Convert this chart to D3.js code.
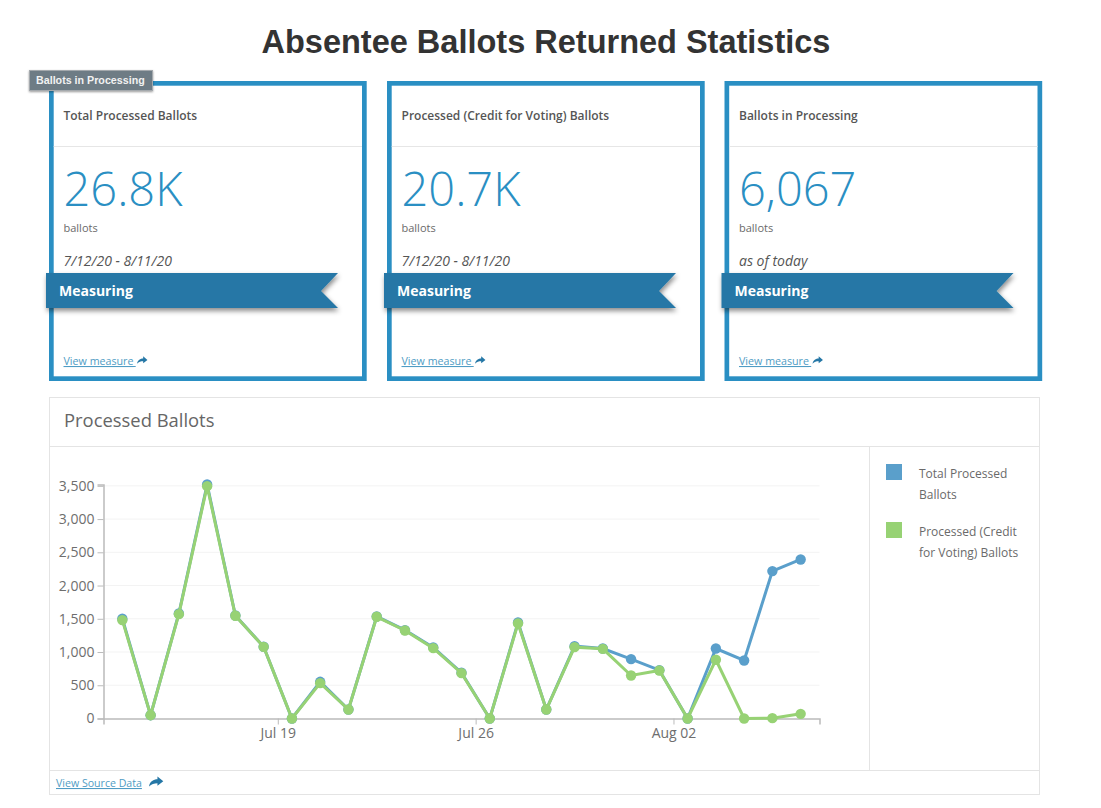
<!DOCTYPE html>
<html>
<head>
<meta charset="utf-8">
<script src="https://d3js.org/d3.v7.min.js"></script>
<style>
  body { margin: 0; background: #fff; }
  svg { display: block; }
  text { font-family: "Open Sans", sans-serif; }
  .grid line { stroke: #f3f3f3; }
  .axis text { font-size: 14px; fill: #6e6e6e; font-weight: 400; }
  .axis path, .axis line { stroke: #bbb; }
  .link { fill: #4f9cc4; font-size: 11px; font-weight: 400; text-decoration: underline; }
</style>
</head>
<body>
<script>
const dates = ['2020-07-13', '2020-07-14', '2020-07-15', '2020-07-16', '2020-07-17', '2020-07-18', '2020-07-19',
  '2020-07-20', '2020-07-21', '2020-07-22', '2020-07-23', '2020-07-24', '2020-07-25', '2020-07-26',
  '2020-07-27', '2020-07-28', '2020-07-29', '2020-07-30', '2020-07-31', '2020-08-01', '2020-08-02',
  '2020-08-03', '2020-08-04', '2020-08-05', '2020-08-06'];
const totalProcessed = [1500, 50, 1580, 3520, 1550, 1080, 0, 552, 135, 1535, 1330, 1070, 690, 0,
  1445, 135, 1088, 1053, 893, 727, 0, 1053, 873, 2217, 2392];
const creditProcessed = [1480, 50, 1570, 3495, 1545, 1078, 0, 532, 135, 1530, 1324, 1058, 682, 0,
  1430, 135, 1073, 1048, 647, 722, 0, 883, 0, 5, 70];

const yTicks = [0, 500, 1000, 1500, 2000, 2500, 3000, 3500];
const xTicks = ['2020-07-19', '2020-07-26', '2020-08-02'];

const cardTitles = ['Total Processed Ballots', 'Processed (Credit for Voting) Ballots', 'Ballots in Processing'];
const cardValues = ['26.8K', '20.7K', '6,067'];
const cardRanges = ['7/12/20 - 8/11/20', '7/12/20 - 8/11/20', 'as of today'];
const cardLefts = [49, 387, 724.5];

const legendLabels = [['Total Processed', 'Ballots'], ['Processed (Credit', 'for Voting) Ballots']];
const seriesColors = ['#5a9fcb', '#97d274'];

const svg = d3.select('body')
  .append('svg')
  .attr('width', 1101)
  .attr('height', 808);

const defs = svg.append('defs');
const shadow = defs.append('filter')
  .attr('id', 'ribbon-shadow')
  .attr('x', '-5%').attr('y', '-20%')
  .attr('width', '115%').attr('height', '160%');
shadow.append('feDropShadow')
  .attr('dx', 1).attr('dy', 3)
  .attr('stdDeviation', 2.5)
  .attr('flood-color', '#000')
  .attr('flood-opacity', 0.45);

const tipShadow = defs.append('filter')
  .attr('id', 'tip-shadow')
  .attr('x', '-5%').attr('y', '-20%')
  .attr('width', '110%').attr('height', '150%');
tipShadow.append('feDropShadow')
  .attr('dx', 0).attr('dy', 1)
  .attr('stdDeviation', 1)
  .attr('flood-color', '#000')
  .attr('flood-opacity', 0.4);

svg.append('text')
  .text('Absentee Ballots Returned Statistics')
  .attr('x', 546)
  .attr('y', 53)
  .attr('text-anchor', 'middle')
  .style('font-family', '"Liberation Sans", Arial, sans-serif')
  .style('font-weight', 700)
  .style('font-size', '32.5px')
  .attr('fill', '#333');

function shareIcon(parent, x, y, color, k) {
  parent.append('path')
    .attr('transform', `translate(${x}, ${y}) scale(${k})`)
    .attr('d', 'M0 6.5 C0.8 2.5 3.5 1 6.5 1 L6.5 -1.2 L11 2.5 L6.5 6 L6.5 4 C4 4 2 4.6 0 6.5 Z')
    .attr('fill', color);
}

function drawCards() {
  const cards = svg.selectAll('g.card')
    .data(cardTitles)
    .enter()
    .append('g')
    .attr('class', 'card')
    .attr('transform', (d, i) => `translate(${cardLefts[i]}, 81)`);

  cards.append('rect')
    .attr('x', 2.35).attr('y', 2.35)
    .attr('width', 313).attr('height', 295.3)
    .attr('fill', '#fff')
    .attr('stroke', '#2a8fc3')
    .attr('stroke-width', 4.7);

  cards.append('line')
    .attr('x1', 4.7).attr('x2', 313)
    .attr('y1', 65.5).attr('y2', 65.5)
    .attr('stroke', '#e6e6e6');

  cards.append('text')
    .text(d => d)
    .attr('x', 14.5).attr('y', 38.5)
    .style('font-size', '12px')
    .style('font-weight', 600)
    .attr('fill', '#555');

  cards.append('text')
    .text((d, i) => cardValues[i])
    .attr('x', 14.5).attr('y', 125)
    .style('font-size', '47px')
    .style('font-weight', 300)
    .attr('fill', '#2a8fc3');

  cards.append('text')
    .text('ballots')
    .attr('x', 14.5).attr('y', 151)
    .style('font-size', '11px')
    .attr('fill', '#6a6a6a');

  cards.append('text')
    .text((d, i) => cardRanges[i])
    .attr('x', 14.5).attr('y', 185)
    .style('font-size', '14px')
    .style('font-style', 'italic')
    .attr('fill', '#555');

  cards.append('path')
    .attr('d', 'M-3 192 H289 L272 210 L289 227 H-3 Z')
    .attr('fill', '#2577a6')
    .attr('filter', 'url(#ribbon-shadow)');

  cards.append('text')
    .text('Measuring')
    .attr('x', 10).attr('y', 215)
    .style('font-size', '14px')
    .style('font-weight', 700)
    .attr('fill', '#fff');

  cards.append('text')
    .text('View measure')
    .attr('class', 'link')
    .attr('x', 14.5).attr('y', 284)
    .style('font-size', '10.7px');

  // le soulignement continue un peu apres le texte dans l'original
  cards.append('line')
    .attr('x1', 83).attr('x2', 86.7)
    .attr('y1', 285.5).attr('y2', 285.5)
    .attr('stroke', '#4f9cc4');

  cards.each(function () {
    shareIcon(d3.select(this), 88, 276.5, '#2577a6', 0.95);
  });
}

function drawPanel() {
  const panel = svg.append('g');

  panel.append('rect')
    .attr('x', 49.5).attr('y', 397.5)
    .attr('width', 990).attr('height', 397)
    .attr('fill', '#fff')
    .attr('stroke', '#e4e4e4');

  panel.selectAll('line.sep')
    .data([[49.5, 446.5, 1039.5, 446.5], [49.5, 770.5, 1039.5, 770.5], [869.5, 446.5, 869.5, 770.5]])
    .enter()
    .append('line')
    .attr('class', 'sep')
    .attr('x1', d => d[0]).attr('y1', d => d[1])
    .attr('x2', d => d[2]).attr('y2', d => d[3])
    .attr('stroke', '#e4e4e4');

  panel.append('text')
    .text('Processed Ballots')
    .attr('x', 64).attr('y', 427)
    .style('font-size', '18.4px')
    .attr('fill', '#666');

  panel.append('text')
    .text('View Source Data')
    .attr('class', 'link')
    .attr('x', 56).attr('y', 787)
    .style('font-size', '10.6px');

  shareIcon(panel, 149, 778, '#2577a6', 1.3);

  const legend = panel.selectAll('g.legend')
    .data(legendLabels)
    .enter()
    .append('g')
    .attr('class', 'legend')
    .attr('transform', (d, i) => `translate(886, ${464 + i * 58})`);

  legend.append('rect')
    .attr('width', 16).attr('height', 16)
    .attr('fill', (d, i) => seriesColors[i]);

  legend.selectAll('text')
    .data(d => d)
    .enter()
    .append('text')
    .text(d => d)
    .attr('x', 33)
    .attr('y', (d, i) => 14 + i * 21)
    .style('font-size', '12px')
    .style('font-weight', 400)
    .attr('fill', '#6a6a6a');
}

function drawChart() {
  const parse = d3.utcParse('%Y-%m-%d');
  // les points sont centres sur le milieu de la journee
  const noon = d => d3.utcHour.offset(parse(d), 12);

  const x = d3.scaleUtc()
    .domain([d3.utcHour.offset(parse(dates[0]), -4), d3.utcHour.offset(parse(dates[dates.length - 1]), 28)])
    .range([103.5, 819.5]);

  const y = d3.scaleLinear()
    .domain([0, d3.max(totalProcessed)])
    .range([718.5, 484.5]);

  svg.append('g')
    .attr('class', 'grid')
    .selectAll('line')
    .data(yTicks.slice(1))
    .enter()
    .append('line')
    .attr('x1', 103.5).attr('x2', 819.5)
    .attr('y1', d => y(d)).attr('y2', d => y(d));

  const yAxis = d3.axisLeft(y)
    .tickValues(yTicks)
    .tickFormat(d3.format(','))
    .tickSize(6)
    .tickPadding(3);

  const xAxis = d3.axisBottom(x)
    .tickValues(xTicks.map(parse))
    .tickFormat(d3.utcFormat('%b %d'))
    .tickSize(6)
    .tickPadding(4);

  const gy = svg.append('g')
    .attr('class', 'axis')
    .attr('transform', 'translate(103.5, 0)')
    .call(yAxis);
  gy.select('.domain').attr('stroke', '#c8c8c8').attr('stroke-width', 1.5);

  const gx = svg.append('g')
    .attr('class', 'axis')
    .attr('transform', 'translate(0, 718.5)')
    .call(xAxis);
  gx.select('.domain').attr('stroke', '#aaa').attr('stroke-width', 1.5);

  const line = d3.line()
    .x((d, i) => x(noon(dates[i])))
    .y(d => y(d));

  [totalProcessed, creditProcessed].forEach((values, s) => {
    svg.append('path')
      .datum(values)
      .attr('fill', 'none')
      .attr('stroke', seriesColors[s])
      .attr('stroke-width', 3)
      .attr('d', line);

    svg.append('g')
      .selectAll('circle')
      .data(values)
      .enter()
      .append('circle')
      .attr('cx', (d, i) => x(noon(dates[i])))
      .attr('cy', d => y(d))
      .attr('r', 5.2)
      .attr('fill', seriesColors[s]);
  });
}

function drawTooltip() {
  const tip = svg.append('g');

  tip.append('rect')
    .attr('x', 29.5).attr('y', 70.5)
    .attr('width', 123).attr('height', 20)
    .attr('fill', '#6e7c85')
    .attr('stroke', '#a4a9ad')
    .attr('filter', 'url(#tip-shadow)');

  tip.append('text')
    .text('Ballots in Processing')
    .attr('x', 36).attr('y', 84)
    .style('font-family', '"Liberation Sans", Arial, sans-serif')
    .style('font-weight', 700)
    .style('font-size', '10.7px')
    .attr('fill', '#f2f2f2');
}

drawCards();
drawPanel();
drawChart();
drawTooltip();
</script>
</body>
</html>
